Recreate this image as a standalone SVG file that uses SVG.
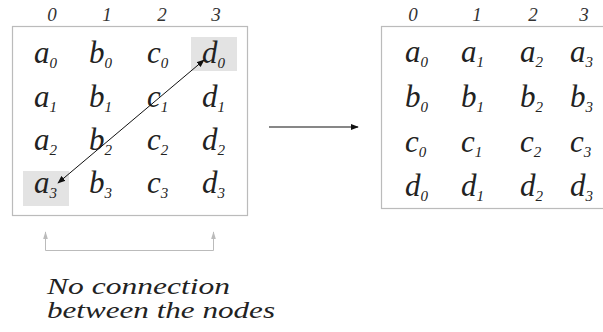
<svg xmlns="http://www.w3.org/2000/svg" width="603" height="332" viewBox="0 0 603 332">
<style>
.box{fill:#fff;stroke:#bbb;stroke-width:1.2;}
.hl{fill:#e3e3e3;}
</style>
<defs>
<marker id="ah" viewBox="0 0 10 10" refX="9" refY="5" markerWidth="8" markerHeight="8" orient="auto-start-reverse" markerUnits="userSpaceOnUse">
<path d="M0,1 L10,5 L0,9 z" fill="#111"/>
</marker>
<marker id="ag" viewBox="0 0 10 10" refX="9" refY="5" markerWidth="8" markerHeight="8" orient="auto" markerUnits="userSpaceOnUse">
<path d="M0,2 L10,5 L0,8 z" fill="#bbb"/>
</marker>
</defs>

<g id="left-matrix" fill="#222">
<rect class="box" x="12.5" y="26.5" width="235" height="189"/>
<rect class="hl" x="191" y="37" width="46" height="34"/>
<rect class="hl" x="23" y="171" width="46" height="35"/>
<text font-family="Liberation Serif" font-style="italic" font-size="19" fill="#333" text-anchor="middle" x="52" y="21">0</text>
<text font-family="Liberation Serif" font-style="italic" font-size="19" fill="#333" text-anchor="middle" x="107" y="21">1</text>
<text font-family="Liberation Serif" font-style="italic" font-size="19" fill="#333" text-anchor="middle" x="162" y="21">2</text>
<text font-family="Liberation Serif" font-style="italic" font-size="19" fill="#333" text-anchor="middle" x="216" y="21">3</text>
<g id="L-a0"><text font-family="Liberation Serif" font-style="italic" font-size="31" x="34" y="63">a<tspan font-size="15" dy="5">0</tspan></text></g>
<g id="L-b0"><text font-family="Liberation Serif" font-style="italic" font-size="31" x="89" y="63">b<tspan font-size="15" dy="5">0</tspan></text></g>
<g id="L-c0"><text font-family="Liberation Serif" font-style="italic" font-size="31" x="147" y="63">c<tspan font-size="15" dy="5">0</tspan></text></g>
<g id="L-d0"><text font-family="Liberation Serif" font-style="italic" font-size="31" x="202" y="63">d<tspan font-size="15" dy="5">0</tspan></text></g>
<g id="L-a1"><text font-family="Liberation Serif" font-style="italic" font-size="31" x="34" y="107">a<tspan font-size="15" dy="5">1</tspan></text></g>
<g id="L-b1"><text font-family="Liberation Serif" font-style="italic" font-size="31" x="89" y="107">b<tspan font-size="15" dy="5">1</tspan></text></g>
<g id="L-c1"><text font-family="Liberation Serif" font-style="italic" font-size="31" x="147" y="107">c<tspan font-size="15" dy="5">1</tspan></text></g>
<g id="L-d1"><text font-family="Liberation Serif" font-style="italic" font-size="31" x="202" y="107">d<tspan font-size="15" dy="5">1</tspan></text></g>
<g id="L-a2"><text font-family="Liberation Serif" font-style="italic" font-size="31" x="34" y="150">a<tspan font-size="15" dy="5">2</tspan></text></g>
<g id="L-b2"><text font-family="Liberation Serif" font-style="italic" font-size="31" x="89" y="150">b<tspan font-size="15" dy="5">2</tspan></text></g>
<g id="L-c2"><text font-family="Liberation Serif" font-style="italic" font-size="31" x="147" y="150">c<tspan font-size="15" dy="5">2</tspan></text></g>
<g id="L-d2"><text font-family="Liberation Serif" font-style="italic" font-size="31" x="202" y="150">d<tspan font-size="15" dy="5">2</tspan></text></g>
<g id="L-a3"><text font-family="Liberation Serif" font-style="italic" font-size="31" x="34" y="193">a<tspan font-size="15" dy="5">3</tspan></text></g>
<g id="L-b3"><text font-family="Liberation Serif" font-style="italic" font-size="31" x="89" y="193">b<tspan font-size="15" dy="5">3</tspan></text></g>
<g id="L-c3"><text font-family="Liberation Serif" font-style="italic" font-size="31" x="147" y="193">c<tspan font-size="15" dy="5">3</tspan></text></g>
<g id="L-d3"><text font-family="Liberation Serif" font-style="italic" font-size="31" x="202" y="193">d<tspan font-size="15" dy="5">3</tspan></text></g>
</g>

<g id="right-matrix" fill="#222">
<rect class="box" x="381.5" y="26.5" width="240" height="182"/>
<text font-family="Liberation Serif" font-style="italic" font-size="19" fill="#333" text-anchor="middle" x="413" y="21">0</text>
<text font-family="Liberation Serif" font-style="italic" font-size="19" fill="#333" text-anchor="middle" x="477" y="21">1</text>
<text font-family="Liberation Serif" font-style="italic" font-size="19" fill="#333" text-anchor="middle" x="533" y="21">2</text>
<text font-family="Liberation Serif" font-style="italic" font-size="19" fill="#333" text-anchor="middle" x="584" y="21">3</text>
<g id="R-a0"><text font-family="Liberation Serif" font-style="italic" font-size="31" x="405" y="62">a<tspan font-size="15" dy="5">0</tspan></text></g>
<g id="R-a1"><text font-family="Liberation Serif" font-style="italic" font-size="31" x="461" y="62">a<tspan font-size="15" dy="5">1</tspan></text></g>
<g id="R-a2"><text font-family="Liberation Serif" font-style="italic" font-size="31" x="520" y="62">a<tspan font-size="15" dy="5">2</tspan></text></g>
<g id="R-a3"><text font-family="Liberation Serif" font-style="italic" font-size="31" x="570" y="62">a<tspan font-size="15" dy="5">3</tspan></text></g>
<g id="R-b0"><text font-family="Liberation Serif" font-style="italic" font-size="31" x="405" y="107">b<tspan font-size="15" dy="5">0</tspan></text></g>
<g id="R-b1"><text font-family="Liberation Serif" font-style="italic" font-size="31" x="461" y="107">b<tspan font-size="15" dy="5">1</tspan></text></g>
<g id="R-b2"><text font-family="Liberation Serif" font-style="italic" font-size="31" x="520" y="107">b<tspan font-size="15" dy="5">2</tspan></text></g>
<g id="R-b3"><text font-family="Liberation Serif" font-style="italic" font-size="31" x="570" y="107">b<tspan font-size="15" dy="5">3</tspan></text></g>
<g id="R-c0"><text font-family="Liberation Serif" font-style="italic" font-size="31" x="405" y="152">c<tspan font-size="15" dy="5">0</tspan></text></g>
<g id="R-c1"><text font-family="Liberation Serif" font-style="italic" font-size="31" x="461" y="152">c<tspan font-size="15" dy="5">1</tspan></text></g>
<g id="R-c2"><text font-family="Liberation Serif" font-style="italic" font-size="31" x="520" y="152">c<tspan font-size="15" dy="5">2</tspan></text></g>
<g id="R-c3"><text font-family="Liberation Serif" font-style="italic" font-size="31" x="570" y="152">c<tspan font-size="15" dy="5">3</tspan></text></g>
<g id="R-d0"><text font-family="Liberation Serif" font-style="italic" font-size="31" x="405" y="196">d<tspan font-size="15" dy="5">0</tspan></text></g>
<g id="R-d1"><text font-family="Liberation Serif" font-style="italic" font-size="31" x="461" y="196">d<tspan font-size="15" dy="5">1</tspan></text></g>
<g id="R-d2"><text font-family="Liberation Serif" font-style="italic" font-size="31" x="520" y="196">d<tspan font-size="15" dy="5">2</tspan></text></g>
<g id="R-d3"><text font-family="Liberation Serif" font-style="italic" font-size="31" x="570" y="196">d<tspan font-size="15" dy="5">3</tspan></text></g>
</g>

<g id="connectors">
<line x1="58" y1="183" x2="204" y2="60" stroke="#111" stroke-width="1" marker-start="url(#ah)" marker-end="url(#ah)"/>
<line x1="269" y1="127" x2="358" y2="127" stroke="#111" stroke-width="1.2" marker-end="url(#ah)"/>
<path d="M45.5,234 V250.5 H213.5 V234" fill="none" stroke="#bbb" stroke-width="1"/>
<line x1="45.5" y1="240" x2="45.5" y2="232" stroke="#bbb" stroke-width="1" marker-end="url(#ag)"/>
<line x1="213.5" y1="240" x2="213.5" y2="232" stroke="#bbb" stroke-width="1" marker-end="url(#ag)"/>
</g>

<g id="note" fill="#222">
<text font-family="Liberation Serif" font-style="italic" font-size="24" x="47" y="294" textLength="183" lengthAdjust="spacingAndGlyphs">No connection</text>
<text font-family="Liberation Serif" font-style="italic" font-size="24" x="47" y="318" textLength="228" lengthAdjust="spacingAndGlyphs">between the nodes</text>
</g>
</svg>
